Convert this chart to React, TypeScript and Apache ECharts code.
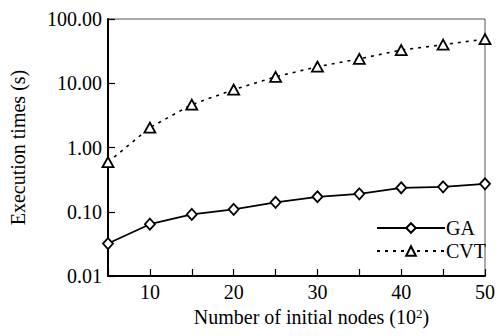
import React, { useEffect, useRef } from "react";
import * as echarts from "echarts";

const nodes = [5, 10, 15, 20, 25, 30, 35, 40, 45, 50];
const gaTimes = [0.032, 0.064, 0.091, 0.109, 0.14, 0.171, 0.19, 0.236, 0.244, 0.272];
const cvtTimes = [0.59, 2.04, 4.65, 7.95, 12.6, 18.1, 24.0, 32.9, 39.8, 48.7];
const yTickLabels = ["0.01", "0.10", "1.00", "10.00", "100.00"];

export default function App() {
  const ref = useRef<HTMLDivElement>(null);
  useEffect(() => {
    document.body.style.margin = "0";
    const chart = echarts.init(ref.current!, null, { renderer: "svg" });
    const font = "'Liberation Serif', 'Times New Roman', serif";
    chart.setOption({
      animation: false,
      backgroundColor: "#fff",
      grid: {
        left: 106,
        right: 8,
        top: 19,
        bottom: 60,
        show: true,
        borderColor: "#555",
        borderWidth: 1,
        backgroundColor: "transparent",
      },
      legend: {
        orient: "vertical",
        left: 371,
        top: 213,
        itemWidth: 68,
        itemHeight: 12,
        itemGap: 3,
        textStyle: { fontFamily: font, fontSize: 20, color: "#000", padding: [0, 0, 0, -4] },
        data: ["GA", "CVT"],
      },
      xAxis: {
        type: "value",
        min: 5,
        max: 50,
        interval: 5,
        name: "Number of initial nodes (10{sup|2})",
        nameLocation: "middle",
        nameGap: 25,
        nameTextStyle: {
          fontFamily: font,
          fontSize: 20,
          color: "#000",
          padding: [0, 0, 0, 30],
          rich: { sup: { fontFamily: font, fontSize: 13, color: "#000", verticalAlign: "top", padding: [0, 0, 8, 0] } },
        },
        axisLine: { lineStyle: { color: "#000", width: 2 } },
        axisTick: { inside: true, length: 7, lineStyle: { color: "#000", width: 1.2 } },
        axisLabel: {
          fontFamily: font,
          fontSize: 20,
          color: "#000",
          margin: 6,
          formatter: (v: number) => (v % 10 === 0 ? String(v) : ""),
        },
        splitLine: { show: false },
      },
      yAxis: {
        type: "log",
        logBase: 10,
        min: 0.01,
        max: 100,
        name: "Execution times (s)",
        nameLocation: "middle",
        nameGap: 80,
        nameTextStyle: { fontFamily: font, fontSize: 20, color: "#000" },
        axisLine: { lineStyle: { color: "#000", width: 2 } },
        axisTick: { inside: true, length: 7, lineStyle: { color: "#000", width: 1.2 } },
        axisLabel: {
          fontFamily: font,
          fontSize: 20,
          color: "#000",
          margin: 6,
          formatter: (v: number) => {
            const e = Math.round(Math.log10(v)) + 2;
            return yTickLabels[e] ?? v.toFixed(2);
          },
        },
        splitLine: { show: false },
        minorTick: { show: false },
      },
      series: [
        {
          name: "GA",
          type: "line",
          data: nodes.map((x, i) => [x, gaTimes[i]]),
          symbol: "diamond",
          symbolSize: [10, 11],
          showAllSymbol: true,
          lineStyle: { color: "#000", width: 1.8 },
          itemStyle: { color: "#fff", borderColor: "#000", borderWidth: 1.8 },
          z: 3,
        },
        {
          name: "CVT",
          type: "line",
          data: nodes.map((x, i) => [x, cvtTimes[i]]),
          symbol: "triangle",
          symbolSize: [11, 10],
          showAllSymbol: true,
          lineStyle: { color: "#000", width: 1.6, type: [3, 5] },
          itemStyle: { color: "#fff", borderColor: "#000", borderWidth: 1.8 },
          z: 3,
        },
      ],
    });
    return () => chart.dispose();
  }, []);
  return <div ref={ref} style={{ position: "absolute", left: 0, top: 0, width: 498, height: 336 }} />;
}
